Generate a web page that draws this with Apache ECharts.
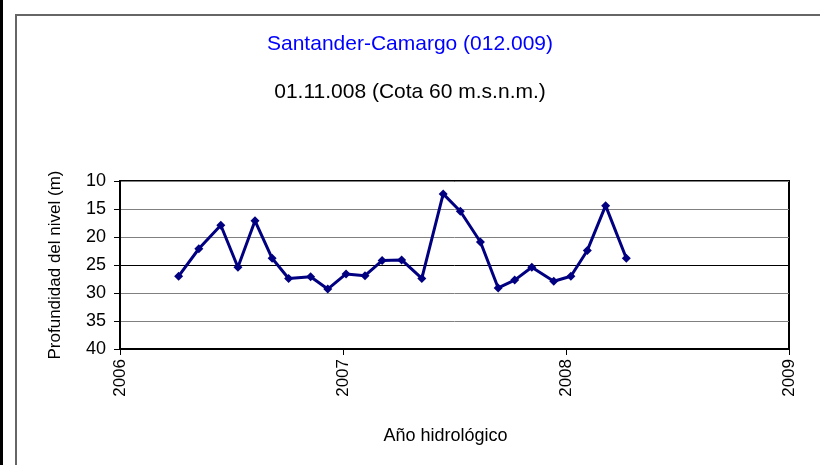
<!DOCTYPE html>
<html>
<head>
<meta charset="utf-8">
<script src="https://cdn.jsdelivr.net/npm/echarts@6/dist/echarts.min.js"></script>
<style>
  html, body { margin: 0; padding: 0; background: #fff; }
  #chart { width: 820px; height: 465px; }
</style>
</head>
<body>
<div id="chart"></div>
<script>
// fechas de medida y profundidad del nivel (m)
var fechas = [
  '2006-04-07', '2006-05-10', '2006-06-15', '2006-07-13', '2006-08-10', '2006-09-07',
  '2006-10-04', '2006-11-09', '2006-12-07', '2007-01-06', '2007-02-06', '2007-03-06',
  '2007-04-07', '2007-05-10', '2007-06-14', '2007-07-12', '2007-08-14', '2007-09-12',
  '2007-10-09', '2007-11-06', '2007-12-12', '2008-01-09', '2008-02-05', '2008-03-06',
  '2008-04-09'
];
var profundidad = [
  27.0, 22.1, 17.9, 25.4, 17.1, 23.8,
  27.4, 27.1, 29.3, 26.6, 26.9, 24.2,
  24.1, 27.4, 12.3, 15.4, 20.9, 29.1,
  27.7, 25.4, 27.9, 27.0, 22.4, 14.4,
  23.8
];
var anios = [2006, 2007, 2008, 2009];

// fecha -> año decimal
function anioDecimal(s) {
  var d = new Date(s + 'T00:00:00Z');
  var y = d.getUTCFullYear();
  var ini = Date.UTC(y, 0, 1), fin = Date.UTC(y + 1, 0, 1);
  return y + (d.getTime() - ini) / (fin - ini);
}

var datos = fechas.map(function (f, i) {
  return [anioDecimal(f), profundidad[i]];
});

var font = 'Liberation Sans, Arial, sans-serif';
var chart = echarts.init(document.getElementById('chart'));

var option = {
  backgroundColor: '#fff',
  animation: false,
  title: [{
    text: 'Santander-Camargo (012.009)',
    left: 'center',
    top: 29,
    textStyle: { color: '#0000ff', fontSize: 21, fontWeight: 'normal', fontFamily: font }
  }, {
    text: '01.11.008 (Cota 60 m.s.n.m.)',
    left: 'center',
    top: 77,
    textStyle: { color: '#000', fontSize: 21, fontWeight: 'normal', fontFamily: font }
  }],
  graphic: [{
    type: 'rect',
    shape: { x: 0, y: 0, width: 3, height: 465 },
    style: { fill: '#000' }
  }, {
    type: 'rect',
    shape: { x: 16, y: 15, width: 820, height: 470 },
    style: { fill: 'none', stroke: '#666', lineWidth: 2 }
  }],
  grid: {
    left: 120,
    right: 31,
    top: 181,
    bottom: 116,
    show: true,
    borderColor: '#000',
    borderWidth: 2,
    backgroundColor: 'transparent'
  },
  xAxis: {
    type: 'value',
    min: anios[0],
    max: anios[anios.length - 1],
    interval: 1,
    name: 'Año hidrológico',
    nameLocation: 'middle',
    nameGap: 78,
    nameTextStyle: { color: '#000', fontSize: 18, fontFamily: font, padding: [0, 18, 0, 0] },
    axisLine: { lineStyle: { color: '#000', width: 2 } },
    axisTick: { show: true, length: 6, lineStyle: { color: '#000' } },
    axisLabel: {
      rotate: 90,
      margin: 10,
      color: '#000',
      fontSize: 17,
      fontFamily: font,
      formatter: function (v) { return String(v); }
    },
    splitLine: { show: false }
  },
  yAxis: {
    type: 'value',
    inverse: true,
    min: 10,
    max: 40,
    interval: 5,
    name: 'Profundidad del nivel (m)',
    nameLocation: 'middle',
    nameGap: 56,
    nameTextStyle: { color: '#000', fontSize: 17, fontFamily: font },
    axisLine: { show: true, lineStyle: { color: '#000', width: 2 } },
    axisTick: { show: true, length: 6, lineStyle: { color: '#000' } },
    axisLabel: { margin: 14, color: '#000', fontSize: 18, fontFamily: font },
    splitLine: {
      show: true,
      lineStyle: {
        color: ['#808080', '#808080', '#808080', '#000', '#808080', '#808080', '#808080'],
        width: 1
      }
    }
  },
  series: [{
    type: 'line',
    data: datos,
    symbol: 'diamond',
    symbolSize: 9,
    lineStyle: { color: '#000080', width: 3 },
    itemStyle: { color: '#000080' }
  }]
};

chart.setOption(option);
</script>
</body>
</html>
